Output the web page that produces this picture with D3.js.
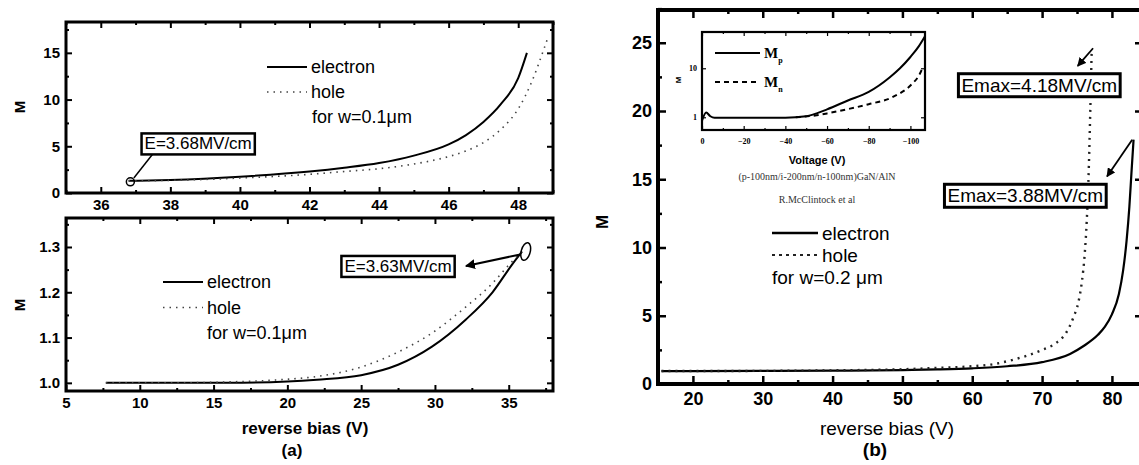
<!DOCTYPE html>
<html lang="en">
<head>
<meta charset="UTF-8" />
<title>Multiplication factor vs reverse bias</title>
<style>
  body { margin: 0; background: #fff; }
  svg { display: block; font-family: "Liberation Sans", Arial, sans-serif; }
  .tick text { fill: #000; }
</style>
</head>
<body>
<svg id="chart" width="1139" height="465"></svg>
<script src="https://d3js.org/d3.v7.min.js"></script>
<script>
// (a) upper: w = 0.1um, high bias
const aTopBiasE = [36.8, 38, 40, 42, 43, 44, 45, 46, 46.5, 47, 47.5, 48, 48.25];
const aTopElectron = [1.3, 1.4, 1.75, 2.3, 2.7, 3.2, 4.0, 5.2, 6.2, 7.6, 9.5, 12.3, 15.0];
const aTopBiasH = [36.8, 38, 40, 42, 43, 44, 45, 46, 46.5, 47, 47.5, 48, 48.4, 48.7, 48.85];
const aTopHole = [1.3, 1.35, 1.6, 2.0, 2.3, 2.6, 3.1, 3.9, 4.5, 5.4, 6.8, 9.0, 12.0, 15.0, 16.6];

// (a) lower: w = 0.1um, low bias
const aBotBiasE = [7.7, 12, 16, 20, 22, 25, 27.5, 29.8, 32.1, 33.9, 35.2, 35.9];
const aBotElectron = [1.0, 1.0, 1.0, 1.003, 1.007, 1.017, 1.04, 1.08, 1.14, 1.2, 1.26, 1.29];
const aBotBiasH = [7.7, 12, 16, 20, 22, 25, 27.5, 29.8, 32.1, 33.9, 35.0, 35.9];
const aBotHole = [1.0, 1.0, 1.002, 1.008, 1.014, 1.035, 1.068, 1.11, 1.168, 1.22, 1.26, 1.29];

// (b): w = 0.2um
const bBiasE = [15.5, 20, 30, 40, 50, 55, 60, 65, 70, 74, 76, 78, 79, 80, 81, 81.6, 82.1, 82.5, 82.8, 83.1];
const bElectron = [0.95, 0.95, 0.96, 0.98, 1.02, 1.07, 1.15, 1.3, 1.6, 2.2, 2.8, 3.6, 4.2, 5.1, 6.6, 8.3, 10.5, 13.0, 15.5, 17.9];
const bBiasH = [15.5, 30, 40, 50, 55, 60, 63, 66, 68, 70, 72, 73.5, 74.5, 75.2, 75.7, 76.1, 76.4, 76.7, 76.9, 77.1];
const bHole = [0.95, 0.96, 1.0, 1.08, 1.18, 1.3, 1.45, 1.8, 2.1, 2.5, 3.0, 3.8, 4.9, 6.0, 7.5, 9.5, 12.0, 16.0, 20.0, 24.4];

// (b) inset: McClintock GaN/AlN measurement
const insetVoltP = [0, -2, -4, -6, -20, -40, -50, -55, -60, -70, -80, -90, -95, -100, -104, -107];
const insetMp = [0.85, 1.25, 1.05, 0.98, 0.98, 0.98, 1.05, 1.2, 1.45, 2.2, 3.3, 6.5, 10, 17, 28, 45];
const insetVoltN = [-45, -55, -60, -71, -80, -91.6, -101, -104, -106];
const insetMn = [1.0, 1.1, 1.2, 1.5, 1.85, 2.6, 4.9, 7.0, 10.5];

// tick labels
const aTopXTicks = [36, 38, 40, 42, 44, 46, 48];
const aTopYTicks = [0, 5, 10, 15];
const aBotXTicks = [5, 10, 15, 20, 25, 30, 35];
const aBotYTicks = [1.0, 1.1, 1.2, 1.3];
const bXTicks = [20, 30, 40, 50, 60, 70, 80];
const bYTicks = [0, 5, 10, 15, 20, 25];
const insetXTicks = [0, -20, -40, -60, -80, -100];
const insetYTicks = [1, 10];

const svg = d3.select('#chart');
const defs = svg.append('defs');
defs.append('marker')
    .attr('id', 'arrow')
    .attr('viewBox', '0 0 10 10')
    .attr('refX', 9).attr('refY', 5)
    .attr('markerWidth', 5).attr('markerHeight', 5)
    .attr('orient', 'auto')
  .append('path')
    .attr('d', 'M0,0 L10,5 L0,10 z')
    .attr('fill', '#000');

const range = (a, b, s) => d3.range(a, b + s / 2, s);
const blank = () => '';

function panel(p) {
    const x = d3.scaleLinear().domain(p.xDomain).range([p.left, p.right]);
    const y = (p.log ? d3.scaleLog() : d3.scaleLinear()).domain(p.yDomain).range([p.bottom, p.top]);
    const g = svg.append('g');
    const fs = p.fontSize;

    const addAxis = (axis, tx, ty, vals, size, fmt, pad) => {
        const a = g.append('g')
            .attr('transform', `translate(${tx},${ty})`)
            .call(axis.tickValues(vals).tickSize(-size).tickPadding(pad || 4).tickFormat(fmt || blank));
        a.select('.domain').remove();
        a.selectAll('line').attr('stroke', '#000').attr('stroke-width', p.tickWidth);
        a.selectAll('text').attr('font-size', fs).attr('font-weight', p.tickWeight || 'normal')
            .attr('font-family', p.tickFont || null);
        return a;
    };

    addAxis(d3.axisBottom(x), 0, p.bottom, p.xTicks, p.major, p.xFmt, p.xPad);
    addAxis(d3.axisBottom(x), 0, p.bottom, p.xMinor, p.minor);
    addAxis(d3.axisTop(x), 0, p.top, p.xTicks, p.major);
    addAxis(d3.axisTop(x), 0, p.top, p.xMinor, p.minor);
    addAxis(d3.axisLeft(y), p.left, 0, p.yTicks, p.major, p.yFmt, p.yPad);
    addAxis(d3.axisLeft(y), p.left, 0, p.yMinor, p.minor);
    addAxis(d3.axisRight(y), p.right, 0, p.yTicks, p.major);
    addAxis(d3.axisRight(y), p.right, 0, p.yMinor, p.minor);

    g.append('rect')
        .attr('x', p.left).attr('y', p.top)
        .attr('width', p.right - p.left).attr('height', p.bottom - p.top)
        .attr('fill', 'none').attr('stroke', '#000').attr('stroke-width', p.frameWidth);

    p.series.forEach(s => {
        const pts = s.xs.map((v, i) => [v, s.ys[i]]);
        g.append('path')
            .datum(pts)
            .attr('fill', 'none')
            .attr('stroke', s.color || '#000')
            .attr('stroke-width', s.width)
            .attr('stroke-dasharray', s.dash || null)
            .attr('d', d3.line().x(d => x(d[0])).y(d => y(d[1])).curve(d3.curveMonotoneX));
    });
    return { g, x, y };
}

function legend(g, lx, ly, gap, len, fs, items) {
    items.forEach((it, i) => {
        const yy = ly + i * gap;
        g.append('line')
            .attr('x1', lx).attr('x2', lx + len).attr('y1', yy).attr('y2', yy)
            .attr('stroke', it.color || '#000').attr('stroke-width', it.width)
            .attr('stroke-dasharray', it.dash || null);
        g.append('text')
            .attr('x', lx + len + 4)
            .attr('y', yy)
            .attr('dy', '0.35em')
            .attr('font-size', fs)
            .text(it.label);
    });
}

function boxLabel(g, cx, cy, text, fs, sw) {
    const t = g.append('text')
        .attr('x', cx).attr('y', cy).attr('dy', '0.35em')
        .attr('text-anchor', 'middle')
        .attr('font-size', fs)
        .text(text);
    const bb = t.node().getBBox();
    g.insert('rect', () => t.node())
        .attr('x', bb.x - 3).attr('y', bb.y - 1)
        .attr('width', bb.width + 6).attr('height', bb.height + 2)
        .attr('fill', '#fff').attr('stroke', '#000').attr('stroke-width', sw);
}

// ---------- (a) upper ----------
const A1 = panel({
    left: 66, right: 553, top: 22, bottom: 193,
    xDomain: [35, 49], yDomain: [0, 18.3],
    xTicks: aTopXTicks, xMinor: range(35, 49, 1).filter(v => v % 2),
    yTicks: aTopYTicks, yMinor: [2.5, 7.5, 12.5, 17.5],
    major: 6, minor: 3, tickWidth: 2, frameWidth: 3, fontSize: 15, xPad: 6, yPad: 6,
    tickWeight: 'bold', xFmt: d3.format('d'), yFmt: d3.format('d'),
    series: [
        { xs: aTopBiasE, ys: aTopElectron, width: 2 },
        { xs: aTopBiasH, ys: aTopHole, width: 1.6, dash: '1.5,5', color: '#444' }
    ]
});
legend(A1.g, 267, 67, 25, 40, 18, [
    { label: 'electron', dash: null, width: 2 },
    { label: 'hole', dash: '1.5,5', width: 1.6, color: '#444' }
]);
A1.g.append('text').attr('x', 312).attr('y', 117).attr('dy', '0.35em')
    .attr('font-size', 18).text('for w=0.1\u03bcm');
A1.g.append('ellipse')
    .attr('cx', A1.x(36.85)).attr('cy', A1.y(1.2)).attr('rx', 4).attr('ry', 4)
    .attr('fill', 'none').attr('stroke', '#000').attr('stroke-width', 1.5);
A1.g.append('line')
    .attr('x1', A1.x(36.95)).attr('y1', A1.y(1.6))
    .attr('x2', A1.x(37.5)).attr('y2', A1.y(4.2))
    .attr('stroke', '#000').attr('stroke-width', 1.5);
boxLabel(A1.g, A1.x(38.8), A1.y(5.3), 'E=3.68MV/cm', 17, 2.5);

// ---------- (a) lower ----------
const A2 = panel({
    left: 66, right: 553, top: 218, bottom: 391,
    xDomain: [5, 38], yDomain: [0.982, 1.364],
    xTicks: aBotXTicks, xMinor: range(7.5, 37.5, 5),
    yTicks: aBotYTicks, yMinor: [1.05, 1.15, 1.25, 1.35],
    major: 6, minor: 3, tickWidth: 2, frameWidth: 3, fontSize: 15, xPad: 6, yPad: 6,
    tickWeight: 'bold', xFmt: d3.format('d'), yFmt: d3.format('.1f'),
    series: [
        { xs: aBotBiasE, ys: aBotElectron, width: 2 },
        { xs: aBotBiasH, ys: aBotHole, width: 1.6, dash: '1.5,5', color: '#444' }
    ]
});
legend(A2.g, 163, 282, 25.5, 40, 18, [
    { label: 'electron', dash: null, width: 2 },
    { label: 'hole', dash: '1.5,5', width: 1.6, color: '#444' }
]);
A2.g.append('text').attr('x', 207).attr('y', 333).attr('dy', '0.35em')
    .attr('font-size', 18).text('for w=0.1\u03bcm');
A2.g.append('ellipse')
    .attr('transform', `translate(${A2.x(36.15)},${A2.y(1.29)}) rotate(15)`)
    .attr('rx', 4.5).attr('ry', 9)
    .attr('fill', 'none').attr('stroke', '#000').attr('stroke-width', 1.5);
A2.g.append('line')
    .attr('x1', A2.x(35.7)).attr('y1', A2.y(1.283))
    .attr('x2', A2.x(32.1)).attr('y2', A2.y(1.258))
    .attr('stroke', '#000').attr('stroke-width', 2).attr('marker-end', 'url(#arrow)');
boxLabel(A2.g, A2.x(27.5), A2.y(1.258), 'E=3.63MV/cm', 17, 2.5);

svg.append('text').attr('transform', 'translate(20,107) rotate(-90)')
    .attr('text-anchor', 'middle').attr('dy', '0.35em')
    .attr('font-size', 15).attr('font-weight', 'bold').text('M');
svg.append('text').attr('transform', 'translate(20,305) rotate(-90)')
    .attr('text-anchor', 'middle').attr('dy', '0.35em')
    .attr('font-size', 15).attr('font-weight', 'bold').text('M');
svg.append('text').attr('x', 305).attr('y', 428).attr('dy', '0.35em')
    .attr('text-anchor', 'middle').attr('font-size', 17).attr('font-weight', 'bold')
    .text('reverse bias (V)');
svg.append('text').attr('x', 292).attr('y', 450).attr('dy', '0.35em')
    .attr('text-anchor', 'middle').attr('font-size', 17).attr('font-weight', 'bold')
    .text('(a)');

// ---------- (b) ----------
const B = panel({
    left: 658, right: 1143, top: 10, bottom: 384,
    xDomain: [15, 84.45], yDomain: [0, 27.4],
    xTicks: bXTicks, xMinor: range(15, 85, 10),
    yTicks: bYTicks, yMinor: range(2.5, 27.5, 5),
    major: 8, minor: 4, tickWidth: 2.5, frameWidth: 4, fontSize: 18, xPad: 8, yPad: 6,
    tickWeight: 'bold', xFmt: d3.format('d'), yFmt: d3.format('d'),
    series: [
        { xs: bBiasE, ys: bElectron, width: 2.2 },
        { xs: bBiasH, ys: bHole, width: 2.4, dash: '2,5', color: '#222' }
    ]
});
legend(B.g, 772, 233, 22, 46, 19, [
    { label: 'electron', dash: null, width: 2.5 },
    { label: 'hole', dash: '3,4', width: 2, color: '#222' }
]);
B.g.append('text').attr('x', 772).attr('y', 277).attr('dy', '0.35em')
    .attr('font-size', 19).text('for w=0.2 \u03bcm');
boxLabel(B.g, B.x(69.6), B.y(21.9), 'Emax=4.18MV/cm', 19, 3);
boxLabel(B.g, B.x(67.6), B.y(13.8), 'Emax=3.88MV/cm', 19, 3);
B.g.append('line')
    .attr('x1', B.x(77.3)).attr('y1', B.y(24.6))
    .attr('x2', B.x(75.1)).attr('y2', B.y(23.3))
    .attr('stroke', '#000').attr('stroke-width', 1.8).attr('marker-end', 'url(#arrow)');
B.g.append('line')
    .attr('x1', B.x(82.9)).attr('y1', B.y(17.9))
    .attr('x2', B.x(79.3)).attr('y2', B.y(15.2))
    .attr('stroke', '#000').attr('stroke-width', 1.8).attr('marker-end', 'url(#arrow)');

svg.append('text').attr('transform', 'translate(602,222) rotate(-90)')
    .attr('text-anchor', 'middle').attr('dy', '0.35em')
    .attr('font-size', 17).attr('font-weight', 'bold').text('M');
svg.append('text').attr('x', 887).attr('y', 428).attr('dy', '0.35em')
    .attr('text-anchor', 'middle').attr('font-size', 19)
    .text('reverse bias (V)');
svg.append('text').attr('x', 875).attr('y', 449).attr('dy', '0.35em')
    .attr('text-anchor', 'middle').attr('font-size', 19).attr('font-weight', 'bold')
    .text('(b)');

// ---------- inset ----------
const I = panel({
    left: 702, right: 925, top: 32, bottom: 130,
    xDomain: [0, -107], yDomain: [0.55, 55], log: true,
    xTicks: insetXTicks, xMinor: range(-90, -10, 20),
    yTicks: insetYTicks, yMinor: [],
    major: 4, minor: 2, tickWidth: 1.2, frameWidth: 2.2, fontSize: 8, xPad: 8, yPad: 5,
    tickWeight: 'bold', tickFont: '"Liberation Serif", serif',
    xFmt: d3.format('d'), yFmt: d3.format('d'),
    series: [
        { xs: insetVoltP, ys: insetMp, width: 2 },
        { xs: insetVoltN, ys: insetMn, width: 2, dash: '5,4' }
    ]
});
const insetLeg = [
    { sub: 'p', dash: null, y: 53 },
    { sub: 'n', dash: '5,4', y: 82 }
];
insetLeg.forEach(it => {
    I.g.append('line').attr('x1', 715).attr('x2', 760).attr('y1', it.y).attr('y2', it.y)
        .attr('stroke', '#000').attr('stroke-width', 1.8).attr('stroke-dasharray', it.dash);
    const t = I.g.append('text').attr('x', 764).attr('y', it.y).attr('dy', '0.35em')
        .attr('font-family', '"Liberation Serif", serif').attr('font-weight', 'bold').attr('font-size', 15)
        .text('M');
    t.append('tspan').attr('font-size', 8).attr('dy', 5).text(it.sub);
});
svg.append('text').attr('transform', 'translate(678,80) rotate(-90)')
    .attr('text-anchor', 'middle').attr('dy', '0.35em')
    .attr('font-size', 8).attr('font-weight', 'bold').text('M');
svg.append('text').attr('x', 817).attr('y', 160).attr('dy', '0.35em')
    .attr('text-anchor', 'middle').attr('font-size', 11).attr('font-weight', 'bold')
    .text('Voltage (V)');
svg.append('text').attr('x', 817).attr('y', 176).attr('dy', '0.35em')
    .attr('text-anchor', 'middle').attr('font-size', 10)
    .attr('font-family', '"Liberation Serif", serif').attr('fill', '#333')
    .text('(p-100nm/i-200nm/n-100nm)GaN/AlN');
svg.append('text').attr('x', 817).attr('y', 199).attr('dy', '0.35em')
    .attr('text-anchor', 'middle').attr('font-size', 10)
    .attr('font-family', '"Liberation Serif", serif').attr('fill', '#333')
    .text('R.McClintock et al');
</script>
</body>
</html>
